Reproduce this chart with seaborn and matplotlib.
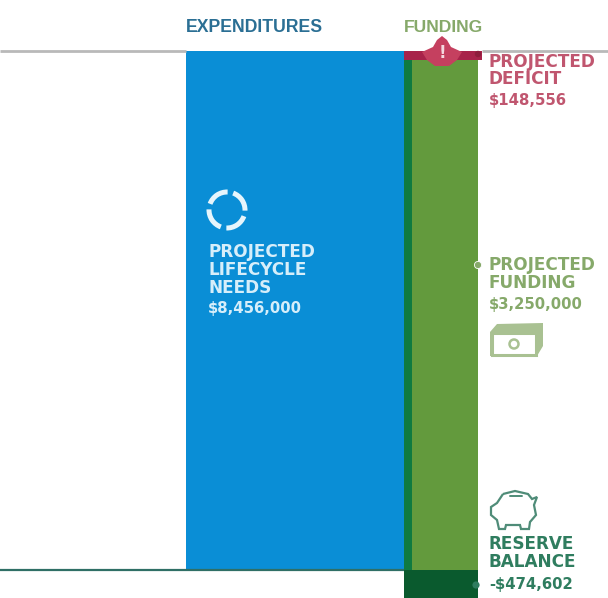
import numpy as np
import pandas as pd
import matplotlib
matplotlib.use("Agg")
import matplotlib.pyplot as plt
from matplotlib.patches import Arc, Circle, Polygon, Rectangle
from matplotlib.path import Path
from matplotlib.patches import PathPatch
import seaborn as sns

# Budget figures, in dollars
lifecycle_needs = 8456000
projected_funding = 3250000
projected_deficit = 148556
reserve_balance = -474602

segments = ["needs", "funding_edge", "funding", "deficit", "reserve"]
segment_tops = [lifecycle_needs, lifecycle_needs - projected_deficit,
                lifecycle_needs - projected_deficit, lifecycle_needs, 0]
segment_bottoms = [0, 0, 0, lifecycle_needs - projected_deficit, reserve_balance]

W, H = 608, 598
TOP_PX, BASE_PX = 51, 570

BLUE = "#0a8ed6"
DARK_GREEN = "#0f7a40"
GREEN = "#639a3d"
DEEP_GREEN = "#0a5a2e"
RED = "#a8234a"
ROSE = "#c5405f"
LABEL_RED = "#c0566f"
LABEL_GREEN = "#86a96a"
LABEL_TEAL = "#2f7d5f"
HEAD_BLUE = "#2b6f94"

sns.set_theme(style="white")
plt.rcParams["font.family"] = ["DejaVu Sans"]

fig = plt.figure(figsize=(W / 100, H / 100), dpi=100, facecolor="white")
ax = fig.add_axes([0, 0, 1, 1])

# Horizontal placement and fill of each stacked segment, in figure pixels
spans = {"needs": (186, 404, BLUE), "funding_edge": (404, 412, DARK_GREEN),
         "funding": (412, 478, GREEN), "deficit": (404, 482, RED),
         "reserve": (404, 478, DEEP_GREEN)}

for name, top, bottom in zip(segments, segment_tops, segment_bottoms):
    x0, x1, colour = spans[name]
    sns.barplot(x=[(x0 + x1) / 2], y=[top - bottom], bottom=bottom, width=x1 - x0,
                native_scale=True, color=colour, saturation=1, errorbar=None,
                linewidth=0, ax=ax)

per_px = lifecycle_needs / (BASE_PX - TOP_PX)
ax.set_xlim(0, W)
ax.set_ylim(-(H - BASE_PX) * per_px, lifecycle_needs + TOP_PX * per_px)
ax.axis("off")

# Overlay in pixel coordinates for rules, labels and pictograms
ov = fig.add_axes([0, 0, 1, 1], facecolor="none")
ov.set_xlim(0, W)
ov.set_ylim(H, 0)
ov.axis("off")

ov.plot([0, 186], [TOP_PX, TOP_PX], color="#b9b9b9", lw=2, solid_capstyle="butt")
ov.plot([482, W], [TOP_PX, TOP_PX], color="#b9b9b9", lw=2, solid_capstyle="butt")
ov.plot([0, 404], [BASE_PX, BASE_PX], color="#2f6f66", lw=1.6, solid_capstyle="butt")

ov.text(186, 27, "EXPENDITURES", color=HEAD_BLUE, fontsize=12.7, fontweight="bold",
        family="Liberation Sans", va="center", ha="left")
ov.text(404, 27, "FUNDING", color=LABEL_GREEN, fontsize=12.6, fontweight="bold",
        family="Liberation Sans", va="center", ha="left")

# Deficit warning marker
ov.add_patch(Polygon([(422, 52), (433, 47), (437, 40), (442, 36), (447, 40), (451, 47),
                      (462, 52), (457, 60), (449, 66), (435, 66), (427, 60)],
                     closed=True, fc=ROSE, ec="none", zorder=3))
ov.text(442, 53, "!", color="#f4d9df", fontsize=12, fontweight="bold", ha="center",
        va="center", zorder=4)
ov.add_patch(Circle((478, 54), 3.2, fc="#8d1d3c", ec="none", zorder=4))
ov.add_patch(Circle((478, 265), 3.6, fc=LABEL_GREEN, ec="white", lw=0.6, zorder=4))
ov.add_patch(Circle((476, 585), 3.6, fc=LABEL_TEAL, ec="none", zorder=4))


def stacked_label(x, ys, lines, colour, size=12.2):
    for y, line in zip(ys, lines):
        ov.text(x, y, line, color=colour, fontsize=size, fontweight="bold",
                va="center", ha="left", zorder=5)


AMOUNT_SIZE = 10.7
stacked_label(208, [252, 270, 288], ["PROJECTED", "LIFECYCLE", "NEEDS"], "#d6eefa")
stacked_label(208, [309], [f"${lifecycle_needs:,}"], "#d6eefa", AMOUNT_SIZE)
stacked_label(489, [62, 79], ["PROJECTED", "DEFICIT"], LABEL_RED)
stacked_label(489, [101], [f"${projected_deficit:,}"], LABEL_RED, AMOUNT_SIZE)
stacked_label(489, [265, 283], ["PROJECTED", "FUNDING"], LABEL_GREEN)
stacked_label(489, [305], [f"${projected_funding:,}"], LABEL_GREEN, AMOUNT_SIZE)
stacked_label(489, [544, 562], ["RESERVE", "BALANCE"], LABEL_TEAL)
stacked_label(489, [584], [f"-${abs(reserve_balance):,}"], LABEL_TEAL, AMOUNT_SIZE)

# Lifecycle ring
for start in (20, 110, 200, 290):
    ov.add_patch(Arc((227, 210), 36, 36, theta1=start, theta2=start + 72,
                     color="#e6f5fc", lw=3.6))

# Banknote pictogram
ov.add_patch(Polygon([(497, 324), (543, 323), (543, 346), (537, 356), (490, 356), (490, 332)],
                     closed=True, fc="#a9c192", ec="none"))
ov.add_patch(Rectangle((492, 333), 44, 22, fc="white", ec="#a9c192", lw=2.2))
ov.add_patch(Circle((514, 344), 4.5, fc="white", ec="#a9c192", lw=1.8))

# Piggy bank pictogram
pig_pts = [(503, 494), (515, 491), (528, 494), (532, 499), (537, 497), (534, 505), (536, 515),
           (530, 522), (529, 529), (521, 529), (520, 525), (506, 525), (505, 529),
           (499, 529), (497, 520), (491, 515), (491, 507), (497, 503), (503, 494)]
ov.add_patch(PathPatch(Path(pig_pts), fc="white", ec="#4f8c78", lw=1.6))
ov.plot([510, 522], [496, 496], color="#4f8c78", lw=1.4)

fig.savefig("out.png", dpi=100)
